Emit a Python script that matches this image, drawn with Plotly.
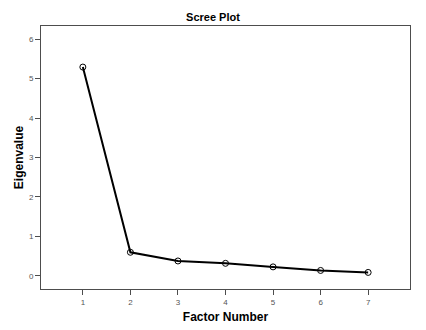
import plotly.graph_objects as go

factor_number = [1, 2, 3, 4, 5, 6, 7]
eigenvalue = [5.29, 0.60, 0.38, 0.32, 0.23, 0.14, 0.09]
y_ticks = [0, 1, 2, 3, 4, 5, 6]

fig = go.Figure(
    go.Scatter(
        x=factor_number,
        y=eigenvalue,
        mode="lines+markers",
        line=dict(color="black", width=2),
        marker=dict(symbol="circle-open", size=6, color="black", line=dict(width=1)),
    )
)

axis_common = dict(
    showgrid=False,
    zeroline=False,
    showline=True,
    linecolor="#4d4d4d",
    linewidth=1,
    mirror=True,
    ticks="outside",
    ticklen=5,
    tickcolor="#4d4d4d",
    tickfont=dict(family="Liberation Sans, Arial", size=8, color="#555555"),
    automargin=False,
)

fig.update_layout(
    width=426,
    height=330,
    paper_bgcolor="white",
    plot_bgcolor="white",
    showlegend=False,
    margin=dict(l=41, r=16, t=26, b=41),
    title=dict(
        text="<b>Scree Plot</b>",
        x=0.5,
        xanchor="center",
        y=1 - 17 / 330,
        yanchor="middle",
        font=dict(family="Liberation Sans, Arial", size=11, color="black"),
    ),
    xaxis=dict(
        axis_common,
        range=[0.12, 7.88],
        tickvals=factor_number,
        title=dict(
            text="<b>Factor Number</b>",
            font=dict(family="Liberation Sans, Arial", size=12, color="black"),
            standoff=7,
        ),
    ),
    yaxis=dict(
        axis_common,
        range=[-0.33, 6.33],
        tickvals=y_ticks,
        title=dict(
            text="<b>Eigenvalue</b>",
            font=dict(family="Liberation Sans, Arial", size=12, color="black"),
            standoff=2,
        ),
    ),
)

# page body has a default 8px margin, drop it so the figure sits at 0,0
fig.write_html(
    "out.html",
    config={"displayModeBar": False},
    post_script="document.body.style.margin='0';",
)
